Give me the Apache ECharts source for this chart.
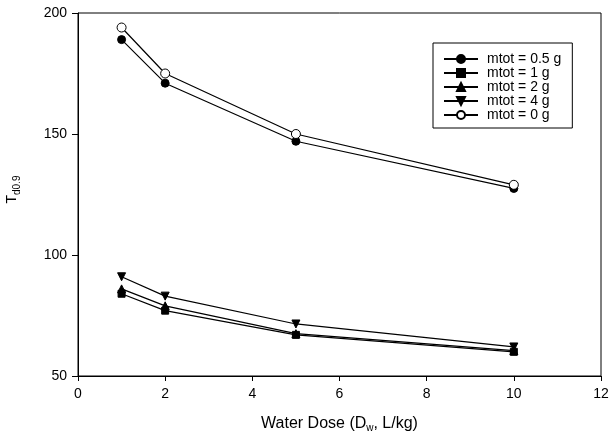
<!DOCTYPE html>
<html><head><meta charset="utf-8">
<script src="https://cdn.jsdelivr.net/npm/echarts@6/dist/echarts.min.js"></script>
<style>html,body{margin:0;padding:0;background:#fff}#c{width:609px;height:436px}</style>
</head><body><div id="c"></div>
<script>
const waterDose = [1, 2, 5, 10];
const seriesNames = ['mtot = 0.5 g', 'mtot = 1 g', 'mtot = 2 g', 'mtot = 4 g', 'mtot = 0 g'];
const m05 = [189, 171, 147, 127.5];
const m1 = [84, 77, 67, 60];
const m2 = [86, 79, 67.5, 60.5];
const m4 = [91, 83, 71.5, 62];
const m0 = [194, 175, 150, 129];
const yTicks = [50, 100, 150, 200];
const xTicks = [0, 2, 4, 6, 8, 10, 12];

const values = [m05, m1, m2, m4, m0];
const symbols = ['circle', 'rect', 'triangle', 'triangle', 'circle'];
const rotations = [0, 0, 0, 180, 0];
const fills = ['#000', '#000', '#000', '#000', '#fff'];
const sizes = [8, 7, 8, 8, 9];

const font = 'Liberation Sans, Arial, sans-serif';
const chart = echarts.init(document.getElementById('c'), null, {renderer: 'canvas'});
chart.setOption({
  animation: false,
  backgroundColor: '#fff',
  grid: {left: 78, right: 8, top: 13, bottom: 60, show: true, borderColor: '#000', borderWidth: 1,
         containLabel: false, outerBoundsMode: 'none'},
  legend: {
    orient: 'vertical', left: 433, top: 43,
    padding: [9, 11, 6, 10], itemGap: 0, itemWidth: 34, itemHeight: 10,
    borderColor: '#000', borderWidth: 1, backgroundColor: '#fff',
    textStyle: {fontFamily: font, fontSize: 14, color: '#000', padding: [0, 0, 0, 4]},
    data: seriesNames
  },
  xAxis: {
    type: 'value', min: 0, max: 12, interval: 2,
    name: 'Water Dose (D{sub|w}, L/kg)', nameLocation: 'middle', nameGap: 38,
    nameTextStyle: {fontFamily: font, fontSize: 16, color: '#000',
      rich: {sub: {fontFamily: font, fontSize: 10, color: '#000', verticalAlign: 'bottom', padding: [9, 0, 0, 0]}}},
    axisLine: {lineStyle: {color: '#000'}},
    axisTick: {inside: false, length: 5, lineStyle: {color: '#000'}},
    axisLabel: {fontFamily: font, fontSize: 14, color: '#000', margin: 11},
    splitLine: {show: false}
  },
  yAxis: {
    type: 'value', min: 50, max: 200, interval: 50,
    name: '{t|T}{sub|d0.9}', nameLocation: 'middle', nameGap: 56, nameRotate: 90,
    nameTextStyle: {fontFamily: font, fontSize: 14, color: '#000', padding: [0, 0, 0, 10],
      rich: {t: {fontFamily: font, fontSize: 14, color: '#000'},
             sub: {fontFamily: font, fontSize: 10, color: '#000', verticalAlign: 'bottom', padding: [9, 0, 0, 0]}}},
    axisLine: {show: true, lineStyle: {color: '#000'}},
    axisTick: {show: true, inside: false, length: 6, lineStyle: {color: '#000'}},
    axisLabel: {fontFamily: font, fontSize: 14, color: '#000', margin: 11},
    splitLine: {show: false}
  },
  series: seriesNames.map((n, i) => ({
    name: n, type: 'line',
    data: waterDose.map((x, j) => [x, values[i][j]]),
    symbol: symbols[i], symbolSize: sizes[i], symbolRotate: rotations[i],
    showAllSymbol: true,
    lineStyle: {color: '#000', width: 1.2},
    itemStyle: {color: fills[i], borderColor: '#000', borderWidth: 1},
    z: 2 + i
  }))
});
</script></body></html>
